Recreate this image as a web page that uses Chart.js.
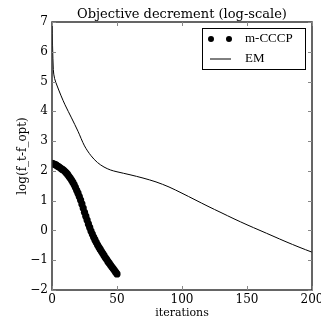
<!DOCTYPE html>
<html>
<head>
<meta charset="utf-8">
<script src="https://cdn.jsdelivr.net/npm/chart.js@4/dist/chart.umd.min.js"></script>
<style>
  html, body { margin: 0; padding: 0; background: #fff; overflow: hidden; }
  #wrap { width: 321px; height: 320px; }
</style>
</head>
<body>
<div id="wrap"><canvas id="myChart" width="321" height="320"></canvas></div>
<script>
const titleText = 'Objective decrement (log-scale)';
const xLabel = 'iterations';
const yLabel = 'log(f_t-f_opt)';

const cccpIter = [0, 1, 2, 3, 4, 5, 6, 7, 8, 9, 10, 11, 12, 13, 14, 15, 16, 17, 18, 19, 20,
    21, 22, 23, 24, 25, 26, 27, 28, 29, 30, 31, 32, 33, 34, 35, 36, 37, 38, 39, 40,
    41, 42, 43, 44, 45, 46, 47, 48, 49, 50];
const cccpValues = [2.25, 2.24, 2.22, 2.20, 2.17, 2.14, 2.11, 2.08, 2.05, 2.02, 1.98,
    1.93, 1.88, 1.82, 1.76, 1.69, 1.62, 1.54, 1.45, 1.35, 1.25,
    1.14, 1.02, 0.89, 0.75, 0.61, 0.48, 0.35, 0.22, 0.10, -0.02,
    -0.12, -0.22, -0.31, -0.40, -0.48, -0.56, -0.63, -0.70, -0.77, -0.84,
    -0.91, -0.97, -1.04, -1.10, -1.16, -1.22, -1.28, -1.34, -1.40, -1.46];

const emIter = [0, 1, 2, 4, 7, 10, 15, 20, 25, 30, 35, 40, 45, 50, 60, 70, 80, 90,
    100, 110, 120, 130, 140, 150, 160, 170, 180, 190, 200];
const emValues = [7, 5.4, 5.1, 4.85, 4.52, 4.22, 3.78, 3.33, 2.84, 2.51, 2.28, 2.13, 2.03,
    1.97, 1.87, 1.76, 1.63, 1.46, 1.25, 1.03, 0.81, 0.6, 0.39, 0.19, 0.0, -0.19, -0.38,
    -0.56, -0.73];

const xTicks = [0, 50, 100, 150, 200];
const yTicks = [-2, -1, 0, 1, 2, 3, 4, 5, 6, 7];

function toPoints(xs, ys) {
    return xs.map((x, i) => ({x: x, y: ys[i]}));
}

// frame, inward ticks and the legend box, like matplotlib
const framePlugin = {
    id: 'frame',
    afterDatasetsDraw(chart) {
        const ctx = chart.ctx;
        const a = chart.chartArea;
        const xs = chart.scales.x;
        const ys = chart.scales.y;
        ctx.save();
        ctx.strokeStyle = '#333';
        ctx.lineWidth = 1.5;
        ctx.strokeRect(a.left, a.top, a.right - a.left, a.bottom - a.top);

        ctx.lineWidth = 1;
        ctx.strokeStyle = '#888';
        const len = 4;
        ctx.beginPath();
        xTicks.forEach((v) => {
            const px = Math.round(xs.getPixelForValue(v)) + 0.5;
            ctx.moveTo(px, a.bottom); ctx.lineTo(px, a.bottom - len);
            ctx.moveTo(px, a.top); ctx.lineTo(px, a.top + len);
        });
        yTicks.forEach((v) => {
            const py = Math.round(ys.getPixelForValue(v)) + 0.5;
            ctx.moveTo(a.left, py); ctx.lineTo(a.left + len, py);
            ctx.moveTo(a.right, py); ctx.lineTo(a.right - len, py);
        });
        ctx.stroke();

        // legend
        const bx = 202.5, by = 28.5, bw = 103, bh = 41;
        ctx.fillStyle = '#fff';
        ctx.fillRect(bx, by, bw, bh);
        ctx.strokeStyle = '#000';
        ctx.lineWidth = 1;
        ctx.strokeRect(bx, by, bw, bh);

        ctx.fillStyle = '#000';
        ctx.beginPath();
        ctx.arc(211, 39, 3, 0, Math.PI * 2);
        ctx.arc(229, 39, 3, 0, Math.PI * 2);
        ctx.fill();

        ctx.strokeStyle = '#000';
        ctx.beginPath();
        ctx.moveTo(210, 59);
        ctx.lineTo(231, 59);
        ctx.stroke();

        ctx.font = '13px "Liberation Serif"';
        ctx.textBaseline = 'middle';
        ctx.textAlign = 'left';
        ctx.fillText(chart.data.datasets[0].label, 245, 39);
        ctx.fillText(chart.data.datasets[1].label, 245, 59);
        ctx.restore();
    }
};

const ctx = document.getElementById('myChart');

const data = {
    datasets: [{
        label: 'm-CCCP',
        data: toPoints(cccpIter, cccpValues),
        showLine: false,
        pointRadius: 3.6,
        pointBackgroundColor: '#000',
        pointBorderWidth: 0,
    }, {
        label: 'EM',
        type: 'line',
        data: toPoints(emIter, emValues),
        borderColor: '#000',
        borderWidth: 1,
        pointRadius: 0,
        tension: 0.3,
    }]
};

const config = {
    type: 'scatter',
    data: data,
    options: {
        responsive: false,
        animation: false,
        layout: { padding: { left: 0, right: 9, top: 0, bottom: 0 } },
        plugins: {
            legend: { display: false },
            tooltip: { enabled: false },
            title: {
                display: true,
                text: titleText,
                fullSize: false,
                color: '#000',
                font: { family: 'DejaVu Serif', size: 13, weight: 'normal', lineHeight: 1 },
                padding: { top: 8, bottom: 1 },
            },
        },
        scales: {
            x: {
                type: 'linear',
                min: 0,
                max: 200,
                grid: { display: false, drawTicks: false },
                border: { display: false },
                ticks: {
                    stepSize: 50,
                    color: '#000',
                    padding: 3,
                    maxRotation: 0,
                    font: { family: 'DejaVu Serif', size: 12 },
                },
                title: {
                    display: true,
                    text: xLabel,
                    color: '#000',
                    padding: 0,
                    font: { family: 'DejaVu Serif', size: 11 },
                },
                afterFit(scale) {
                    scale.height = 30;
                    scale.paddingRight = 0;
                    scale.paddingLeft = 0;
                },
            },
            y: {
                min: -2,
                max: 7,
                grid: { display: false, drawTicks: false },
                border: { display: false },
                ticks: {
                    stepSize: 1,
                    color: '#000',
                    padding: 4,
                    font: { family: 'DejaVu Serif', size: 12 },
                    callback: (v) => String(v).replace('-', '\u2212'),
                },
                title: {
                    display: true,
                    text: yLabel,
                    color: '#000',
                    padding: { top: 16, bottom: 0 },
                    font: { family: 'DejaVu Serif', size: 12 },
                },
                afterFit(scale) {
                    scale.width = 52;
                },
            },
        },
    },
    plugins: [framePlugin],
};

const chart = new Chart(ctx, config);
</script>
</body>
</html>
